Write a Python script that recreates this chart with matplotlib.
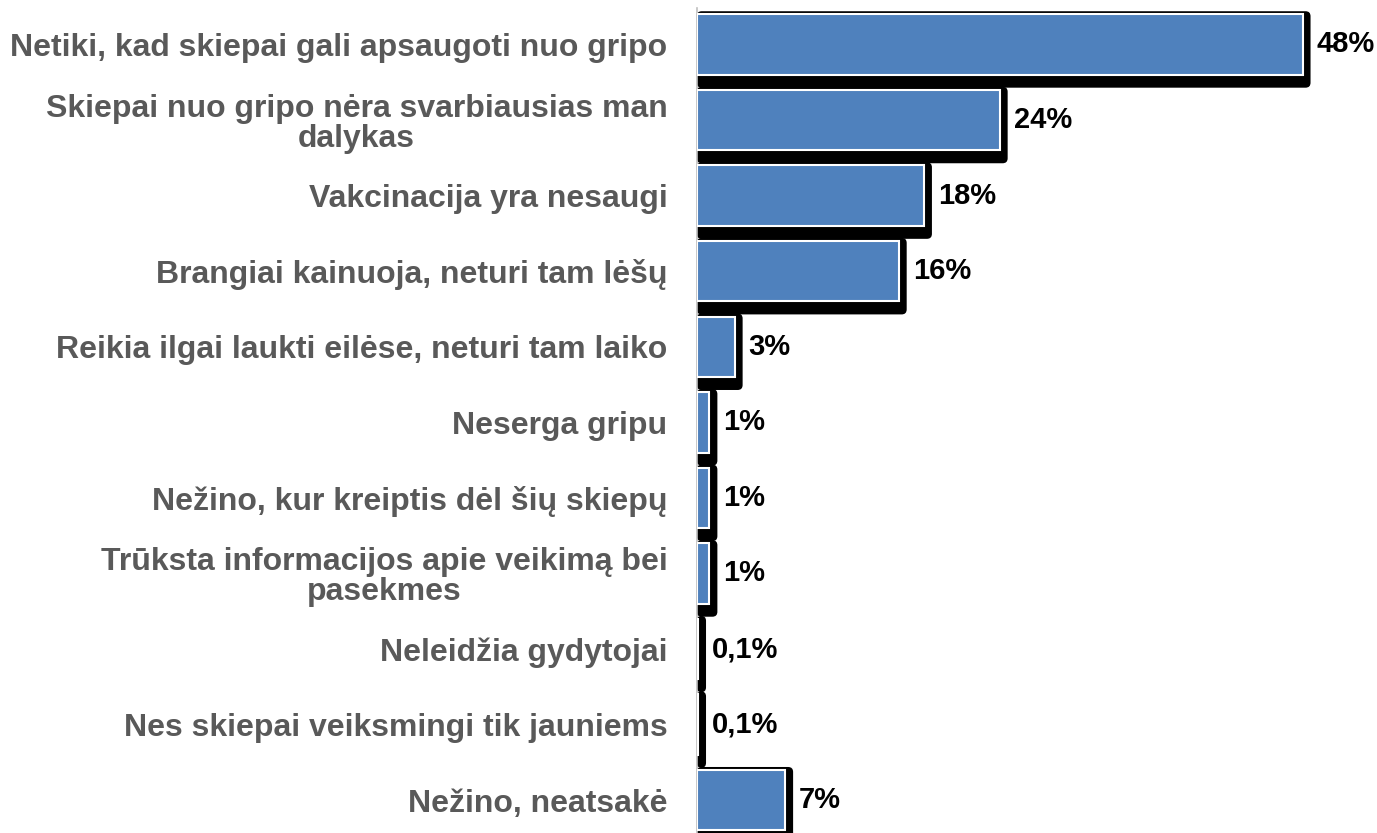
import matplotlib.pyplot as plt
from matplotlib.patches import FancyBboxPatch

categories = ["Netiki, kad skiepai gali apsaugoti nuo gripo",
              "Skiepai nuo gripo nėra svarbiausias man\ndalykas",
              "Vakcinacija yra nesaugi",
              "Brangiai kainuoja, neturi tam lėšų",
              "Reikia ilgai laukti eilėse, neturi tam laiko",
              "Neserga gripu",
              "Nežino, kur kreiptis dėl šių skiepų",
              "Trūksta informacijos apie veikimą bei\npasekmes",
              "Neleidžia gydytojai",
              "Nes skiepai veiksmingi tik jauniems",
              "Nežino, neatsakė"]
values = [48, 24, 18, 16, 3, 1, 1, 1, 0.1, 0.1, 7]
value_labels = ["48%", "24%", "18%", "16%", "3%", "1%", "1%", "1%", "0,1%", "0,1%", "7%"]

plt.rcParams['font.family'] = ['Liberation Sans', 'DejaVu Sans']

fig = plt.figure(figsize=(13.77, 8.33), dpi=100)
ax = fig.add_axes([0.506, -0.006, 0.494, 0.998])

xmax = 53.9
ax.set_xlim(0, xmax)
ax.set_ylim(len(values) - 0.5, -0.5)

# pixel -> data scale
px_x = 0.494 * 1377 / xmax
px_y = 0.998 * 833 / len(values)
h = 0.8
r = 5 / px_x

# black drop shadow behind each bar
for i, v in enumerate(values):
    top = i - h / 2 - 3 / px_y
    bot = i + h / 2 + 13 / px_y
    sh = FancyBboxPatch((0, top), v + 8 / px_x, bot - top,
                        boxstyle="round,pad=0,rounding_size=%f" % r,
                        mutation_aspect=px_x / px_y,
                        facecolor='black', edgecolor='none', zorder=2)
    ax.add_patch(sh)

ax.barh(range(len(values)), values, height=h, color='#4F81BD',
        edgecolor='white', linewidth=1.5, zorder=3)

for i, v in enumerate(values):
    ax.text(v + 14 / px_x, i, value_labels[i], va='center', ha='left',
            fontsize=21, fontweight='bold', color='black')

ax.set_yticks(range(len(values)))
ax.set_yticklabels(categories, fontsize=23, fontweight='bold', color='#595959',
                   multialignment='center', linespacing=1.0)
ax.tick_params(axis='y', length=0, pad=21)
ax.set_xticks([])
for s in ['top', 'right', 'bottom']:
    ax.spines[s].set_visible(False)
ax.spines['left'].set_color('#BFBFBF')
ax.spines['left'].set_linewidth(1.2)
ax.spines['left'].set_bounds(-0.48, len(values) - 0.5)

fig.savefig("out.png", dpi=100)
